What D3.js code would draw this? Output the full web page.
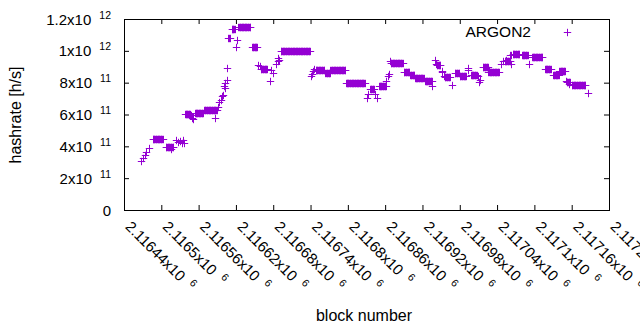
<!DOCTYPE html>
<html>
<head>
<meta charset="utf-8">
<script src="https://cdn.jsdelivr.net/npm/d3@7"></script>
<style>
  body { margin: 0; background: #fff; }
  text { font-family: "Liberation Sans", Arial, sans-serif; fill: #000; }
</style>
</head>
<body>
<div id="wrapper"></div>
<script>
// Single readings (block number, hashrate in h/s).
const singleBlocks = [
  2116468, 2116471, 2116474, 2116476, 2116480, 2116516, 2116524, 2116527, 2116530, 2116533,
  2116535, 2116537, 2116548, 2116549, 2116551, 2116587, 2116591, 2116593, 2116596, 2116598,
  2116600, 2116601, 2116602, 2116603, 2116605, 2116606, 2116620, 2116622, 2116656, 2116659,
  2116675, 2116677, 2116680, 2116684, 2116687, 2116688, 2116689, 2116741, 2116743, 2116744,
  2116746, 2116830, 2116833, 2116844, 2116847, 2116862, 2116865, 2116866, 2116867, 2116936,
  2116940, 2116942, 2116951, 2116952, 2116955, 2116967, 2116993, 2116994, 2117009, 2117011,
  2117012, 2117027, 2117046, 2117049, 2117054, 2117060, 2117062, 2117063, 2117091, 2117151,
  2117155, 2117187
]
const singleRates = [
  3.10e11, 3.25e11, 3.45e11, 3.62e11, 3.90e11, 3.84e11, 4.37e11, 4.25e11, 4.31e11, 4.22e11,
  4.37e11, 4.18e11, 5.94e11, 5.81e11, 5.69e11, 5.79e11, 6.48e11, 6.77e11, 6.88e11, 7.15e11,
  7.20e11, 7.82e11, 7.65e11, 8.00e11, 8.15e11, 8.93e11, 10.24e11, 10.70e11, 9.13e11, 9.03e11,
  8.10e11, 8.82e11, 8.61e11, 9.18e11, 9.39e11, 9.55e11, 9.42e11, 8.40e11, 8.55e11, 8.71e11,
  8.87e11, 7.05e11, 7.30e11, 7.30e11, 7.05e11, 8.13e11, 8.40e11, 8.55e11, 9.34e11, 7.82e11,
  9.45e11, 9.18e11, 8.76e11, 8.68e11, 8.40e11, 7.88e11, 8.93e11, 8.82e11, 8.40e11, 8.02e11,
  8.15e11, 8.78e11, 9.20e11, 9.33e11, 9.45e11, 9.76e11, 9.20e11, 9.72e11, 9.20e11, 8.09e11,
  7.94e11, 7.36e11
]

// Flat stretches: every block from first to last shows the same estimate.
const flatFirst = [
  2116486, 2116507, 2116538, 2116554, 2116569, 2116608, 2116613, 2116624, 2116646, 2116660,
  2116692, 2116748, 2116764, 2116772, 2116797, 2116836, 2116850, 2116869, 2116890, 2116900,
  2116908, 2116924, 2116943, 2116956, 2116972, 2116980, 2116998, 2117017, 2117026, 2117052,
  2117065, 2117080, 2117096, 2117117, 2117130, 2117140, 2117152, 2117160
]
const flatLast = [
  2116502, 2116519, 2116546, 2116567, 2116589, 2116610, 2116618, 2116643, 2116654, 2116670,
  2116739, 2116762, 2116771, 2116796, 2116827, 2116842, 2116861, 2116888, 2116899, 2116907,
  2116922, 2116935, 2116949, 2116964, 2116979, 2116990, 2117007, 2117025, 2117043, 2117061,
  2117076, 2117089, 2117113, 2117126, 2117139, 2117149, 2117157, 2117182
]
const flatRates = [
  4.46e11, 3.96e11, 6.04e11, 6.11e11, 6.28e11, 10.81e11, 11.37e11, 11.48e11, 10.24e11, 8.87e11,
  10.0e11, 8.82e11, 8.63e11, 8.82e11, 7.99e11, 7.63e11, 7.82e11, 9.21e11, 8.66e11, 8.51e11,
  8.30e11, 8.13e11, 9.10e11, 8.35e11, 8.58e11, 8.43e11, 8.48e11, 9.00e11, 8.70e11, 9.39e11,
  9.81e11, 9.74e11, 9.60e11, 8.88e11, 8.49e11, 8.74e11, 8.04e11, 7.86e11
]

// Tick values and their labels (mantissa + power of ten).
const xTickValues = [2116440, 2116500, 2116560, 2116620, 2116680, 2116740, 2116800,
  2116860, 2116920, 2116980, 2117040, 2117100, 2117160, 2117220]
const xTickLabels = ["2.11644x10", "2.1165x10", "2.11656x10", "2.11662x10", "2.11668x10",
  "2.11674x10", "2.1168x10", "2.11686x10", "2.11692x10", "2.11698x10", "2.11704x10",
  "2.1171x10", "2.11716x10", "2.11722x10"]
const xTickPower = "6"
const yTickValues = [0, 2e11, 4e11, 6e11, 8e11, 1e12, 1.2e12]
const yTickLabels = ["0", "2x10", "4x10", "6x10", "8x10", "1x10", "1.2x10"]
const yTickPowers = ["", "11", "11", "11", "11", "12", "12"]

const seriesName = "ARGON2"
const color = "#9400d3"

const dimensions = {
  width: 640,
  height: 330,
  margin: { top: 19, right: 31, bottom: 120, left: 124 },
}
dimensions.boundedWidth = dimensions.width - dimensions.margin.left - dimensions.margin.right
dimensions.boundedHeight = dimensions.height - dimensions.margin.top - dimensions.margin.bottom

// Expand flat stretches into one point per block, then add the single readings.
const dataset = []
flatFirst.forEach((first, i) => {
  for (let b = first; b <= flatLast[i]; b++) dataset.push({ block: b, rate: flatRates[i] })
})
singleBlocks.forEach((b, i) => dataset.push({ block: b, rate: singleRates[i] }))

const xAccessor = d => d.block
const yAccessor = d => d.rate

const svg = d3.select("#wrapper")
  .append("svg")
    .attr("width", dimensions.width)
    .attr("height", dimensions.height)

const bounds = svg.append("g")
  .attr("transform", `translate(${dimensions.margin.left},${dimensions.margin.top})`)

const xScale = d3.scaleLinear()
  .domain([xTickValues[0], xTickValues[xTickValues.length - 1]])
  .range([0, dimensions.boundedWidth])

const yScale = d3.scaleLinear()
  .domain([0, 1.2e12])
  .range([dimensions.boundedHeight, 0])

// inward ticks on all four sides, like gnuplot's mirrored tics
const tick = 5
const axes = [
  [d3.axisBottom(xScale).tickValues(xTickValues), `translate(0,${dimensions.boundedHeight})`],
  [d3.axisTop(xScale).tickValues(xTickValues), "translate(0,0)"],
  [d3.axisLeft(yScale).tickValues(yTickValues), "translate(0,0)"],
  [d3.axisRight(yScale).tickValues(yTickValues), `translate(${dimensions.boundedWidth},0)`],
]
axes.forEach(([gen, tr]) => {
  const g = bounds.append("g")
    .attr("transform", tr)
    .call(gen.tickSize(-tick).tickFormat(""))
  g.select(".domain").remove()
  g.selectAll("line").attr("stroke", "#000")
})

bounds.append("rect")
  .attr("x", 0.5)
  .attr("y", 0.5)
  .attr("width", dimensions.boundedWidth)
  .attr("height", dimensions.boundedHeight)
  .attr("fill", "none")
  .attr("stroke", "#000")
  .attr("stroke-width", 1)

const supGap = 8
const supRaise = 6

// y tick labels: power drawn as its own text so its width is known
const yLabels = bounds.append("g")
yTickValues.forEach((v, i) => {
  const y = yScale(v) + 5.5
  let right = -13
  if (yTickPowers[i]) {
    const sup = yLabels.append("text")
      .attr("x", right)
      .attr("y", y - supRaise)
      .attr("text-anchor", "end")
      .style("font-size", "10.5px")
      .text(yTickPowers[i])
    right -= sup.node().getComputedTextLength() + supGap
  }
  yLabels.append("text")
    .attr("x", right)
    .attr("y", y)
    .attr("text-anchor", "end")
    .style("font-size", "15px")
    .text(yTickLabels[i])
})

// x tick labels, rotated by -45 (downwards)
const xLabels = bounds.append("g")
xTickValues.forEach((v, i) => {
  const g = xLabels.append("g")
    .attr("transform", `translate(${xScale(v) + 0.5},${dimensions.boundedHeight + 17.5}) rotate(45)`)
  const main = g.append("text")
    .style("font-size", "15px")
    .text(xTickLabels[i])
  g.append("text")
    .attr("x", main.node().getComputedTextLength() + supGap)
    .attr("y", -supRaise)
    .style("font-size", "10.5px")
    .text(xTickPower)
})

// the points: gnuplot style "+"
const s = 3.7
const plus = `M${-s},0H${s}M0,${-s}V${s}`
bounds.append("g")
  .selectAll("path")
  .data(dataset)
  .join("path")
    .attr("transform", d => `translate(${Math.round(xScale(xAccessor(d))) + 0.5},${Math.round(yScale(yAccessor(d))) + 0.5})`)
    .attr("d", plus)
    .attr("fill", "none")
    .attr("stroke", color)
    .attr("stroke-width", 1)

// legend
bounds.append("text")
  .attr("x", 531 - dimensions.margin.left)
  .attr("y", 37 - dimensions.margin.top)
  .attr("text-anchor", "end")
  .style("font-size", "15.5px")
  .text(seriesName)
bounds.append("path")
  .attr("transform", `translate(${567 - dimensions.margin.left + 0.5},${32 - dimensions.margin.top + 0.5})`)
  .attr("d", plus)
  .attr("fill", "none")
  .attr("stroke", color)

// axis titles
svg.append("text")
  .attr("transform", `translate(21,115) rotate(-90)`)
  .attr("text-anchor", "middle")
  .style("font-size", "16px")
  .text("hashrate [h/s]")

svg.append("text")
  .attr("x", 364)
  .attr("y", 321)
  .attr("text-anchor", "middle")
  .style("font-size", "16px")
  .text("block number")
</script>
</body>
</html>
